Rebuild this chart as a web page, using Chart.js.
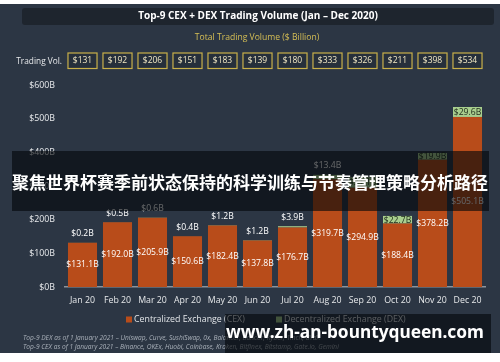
<!DOCTYPE html>
<html>
<head>
<meta charset="utf-8">
<script src="https://cdn.jsdelivr.net/npm/chart.js@4.4.1/dist/chart.umd.min.js"></script>
<style>
  html, body { margin: 0; padding: 0; background: #fff; }
  #wrap { width: 500px; height: 362px; position: relative; }
</style>
</head>
<body>
<div id="wrap"><canvas id="chart" width="500" height="362"></canvas></div>
<script>
// Data
const months = ['Jan 20', 'Feb 20', 'Mar 20', 'Apr 20', 'May 20', 'Jun 20',
  'Jul 20', 'Aug 20', 'Sep 20', 'Oct 20', 'Nov 20', 'Dec 20'];
const cexVolume = [131.1, 192.0, 205.9, 150.6, 182.4, 137.8, 176.7, 319.7, 294.9, 188.4, 378.2, 505.1];
const dexVolume = [0.2, 0.5, 0.6, 0.4, 1.2, 1.2, 3.9, 13.4, 31.1, 22.7, 19.9, 29.6];
const totalVolume = [131, 192, 206, 151, 183, 139, 180, 333, 326, 211, 398, 534];
const yTicks = [0, 100, 200, 300, 400, 500, 600];

const FONT = "'Open Sans', 'Noto Sans', sans-serif";
const BG = '#2c3644';
const ORANGE = '#b84c1a';
const GREEN = '#a9cf8e';
const GOLD = '#c8b04a';

// background, title, totals row
const backdrop = {
  id: 'backdrop',
  beforeDraw(chart) {
    const ctx = chart.ctx;
    const x = chart.scales.x;
    ctx.save();
    ctx.fillStyle = BG;
    ctx.fillRect(0, 4, 500, 349);

    // title box
    ctx.fillStyle = '#1e252e';
    ctx.beginPath();
    ctx.roundRect(22, 8, 472, 17, 3);
    ctx.fill();
    ctx.fillStyle = '#ffffff';
    ctx.font = 'bold 10px ' + FONT;
    ctx.textAlign = 'center';
    ctx.textBaseline = 'middle';
    ctx.fillText('Top-9 CEX + DEX Trading Volume (Jan \u2013 Dec 2020)', 258, 16.5);

    ctx.fillStyle = '#d6bf55';
    ctx.font = '8.6px ' + FONT;
    ctx.fillText('Total Trading Volume ($ Billion)', 257, 38);

    ctx.fillStyle = '#e8eaec';
    ctx.font = '8.3px ' + FONT;
    ctx.textAlign = 'right';
    ctx.fillText('Trading Vol.', 62, 61.5);

    // total boxes above each bar
    const bars = chart.getDatasetMeta(0).data;
    ctx.textAlign = 'center';
    totalVolume.forEach((v, i) => {
      const cx = x.getPixelForValue(i);
      const w = bars[i] ? bars[i].width : 29;
      ctx.fillStyle = '#262f3b';
      ctx.fillRect(cx - w / 2, 53, w, 15.5);
      ctx.strokeStyle = GOLD;
      ctx.lineWidth = 1.2;
      ctx.strokeRect(cx - w / 2, 53, w, 15.5);
      ctx.fillStyle = '#f2e8c4';
      ctx.font = '8.5px ' + FONT;
      ctx.fillText('$' + v, cx, 61);
    });
    ctx.restore();
  }
};

// value labels on the bars
const barLabels = {
  id: 'barLabels',
  afterDatasetsDraw(chart) {
    const ctx = chart.ctx;
    const cex = chart.getDatasetMeta(0).data;
    const dex = chart.getDatasetMeta(1).data;
    ctx.save();
    ctx.textAlign = 'center';
    ctx.textBaseline = 'middle';
    ctx.font = '8.6px ' + FONT;
    cex.forEach((bar, i) => {
      ctx.fillStyle = '#ffffff';
      ctx.fillText('$' + cexVolume[i].toFixed(1) + 'B', bar.x, (bar.y + bar.base) / 2);
      const d = dex[i];
      const h = d.base - d.y;
      const txt = '$' + dexVolume[i].toFixed(1) + 'B';
      if (h >= 6) {
        ctx.fillStyle = '#1d2a1a';
        ctx.fillText(txt, d.x, (d.y + d.base) / 2 + 0.5);
      } else {
        ctx.fillStyle = '#ffffff';
        ctx.fillText(txt, d.x, d.y - 9);
      }
    });
    ctx.restore();
  }
};

// legend, footnotes and the overlays on top of the picture
const overlays = {
  id: 'overlays',
  afterDraw(chart) {
    const ctx = chart.ctx;
    ctx.save();
    ctx.textBaseline = 'middle';
    ctx.textAlign = 'left';

    // legend
    ctx.font = '8.8px ' + FONT;
    ctx.fillStyle = ORANGE;
    ctx.fillRect(126, 316.5, 6, 6);
    ctx.fillStyle = '#e2e5e8';
    ctx.fillText('Centralized Exchange (CEX)', 134, 319.5);
    ctx.fillStyle = GREEN;
    ctx.fillRect(276, 316.5, 6, 6);
    ctx.fillStyle = '#e2e5e8';
    ctx.fillText('Decentralized Exchange (DEX)', 284, 319.5);

    // footnotes
    ctx.font = 'italic 6.6px ' + FONT;
    ctx.fillStyle = '#aab1ba';
    ctx.fillText('Top-9 DEX as of 1 January 2021 \u2013 Uniswap, Curve, SushiSwap, 0x, Balancer, Bancor, Kyber, 1inch, dYdX', 23, 338);
    ctx.fillText('Top-9 CEX as of 1 January 2021 \u2013 Binance, OKEx, Huobi, Coinbase, Kraken, Bitfinex, Bitstamp, Gate.io, Gemini', 23, 347);

    // banner overlay
    ctx.fillStyle = 'rgba(4, 6, 10, 0.62)';
    ctx.fillRect(12, 151, 477, 60);
    ctx.fillStyle = '#ffffff';
    ctx.font = "bold 17px 'Noto Sans CJK SC', sans-serif";
    ctx.textAlign = 'center';
    ctx.fillText('聚焦世界杯赛季前状态保持的科学训练与节奏管理策略分析路径', 250, 183);

    // site watermark
    ctx.fillStyle = 'rgba(4, 6, 10, 0.62)';
    ctx.fillRect(225, 314, 266, 39);
    ctx.fillStyle = '#ffffff';
    ctx.font = "bold 17.3px 'Noto Sans', sans-serif";
    ctx.textAlign = 'left';
    ctx.fillText('www.zh-an-bountyqueen.com', 226, 333);
    ctx.restore();
  }
};

new Chart(document.getElementById('chart'), {
  type: 'bar',
  data: {
    labels: months,
    datasets: [
      { label: 'Centralized Exchange (CEX)', data: cexVolume, backgroundColor: ORANGE,
        borderWidth: 0, barPercentage: 0.83, categoryPercentage: 1 },
      { label: 'Decentralized Exchange (DEX)', data: dexVolume, backgroundColor: GREEN,
        borderWidth: 0, barPercentage: 0.83, categoryPercentage: 1 }
    ]
  },
  options: {
    responsive: false,
    animation: false,
    layout: { padding: { top: 85, right: 15, left: 0, bottom: 0 } },
    plugins: { legend: { display: false }, tooltip: { enabled: false } },
    scales: {
      x: {
        stacked: true,
        grid: { display: false, drawTicks: false },
        border: { color: '#8d949c', width: 1.5 },
        ticks: { color: '#e6e8ea', font: { family: FONT, size: 8.8 }, padding: 8,
          maxRotation: 0, autoSkip: false },
        afterFit(scale) { scale.height = 75; }
      },
      y: {
        stacked: true,
        min: 0,
        max: 600,
        afterBuildTicks(scale) { scale.ticks = yTicks.map(v => ({ value: v })); },
        grid: { display: false, drawTicks: false },
        border: { display: false },
        ticks: { color: '#e8eaec', font: { family: FONT, size: 8.8 }, padding: 10,
          callback: v => '$' + v + 'B' },
        afterFit(scale) { scale.width = 65; }
      }
    }
  },
  plugins: [backdrop, barLabels, overlays]
});
</script>
</body>
</html>
